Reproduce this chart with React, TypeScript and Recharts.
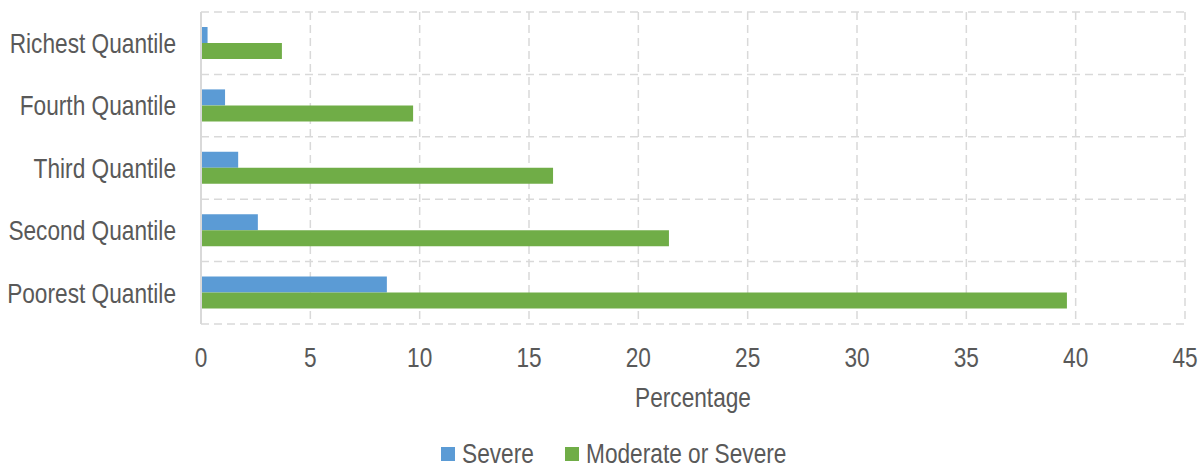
import { Bar, BarChart, CartesianGrid, Legend, XAxis, YAxis } from 'recharts';

document.body.style.margin = '0';

const quantiles = ['Richest Quantile', 'Fourth Quantile', 'Third Quantile', 'Second Quantile', 'Poorest Quantile'];
const severe = [0.3, 1.1, 1.7, 2.6, 8.5];
const moderateOrSevere = [3.7, 9.7, 16.1, 21.4, 39.6];
const xTicks = [0, 5, 10, 15, 20, 25, 30, 35, 40, 45];

const series = [
  { key: 'severe', label: 'Severe', color: '#5b9bd5', textWidth: 73 },
  { key: 'moderate', label: 'Moderate or Severe', color: '#70ad47', textWidth: 201 }
];

const data = quantiles.map((name, i) => ({ name, severe: severe[i], moderate: moderateOrSevere[i] }));

const FONT = "'Liberation Sans', Arial, sans-serif";
const FONT_SIZE = 27;
const TEXT = '#595959';
const GRID = '#d9d9d9';
const SQUEEZE = 0.84; // reference uses a condensed face (Arial Narrow look)

const YTick = ({ x, y, payload }: any) => (
  <text
    transform={`translate(${x},${y}) scale(${SQUEEZE},1)`}
    textAnchor="end"
    dominantBaseline="central"
    fill={TEXT}
    fontSize={FONT_SIZE}
    fontFamily={FONT}
  >
    {payload.value}
  </text>
);

const XTick = ({ x, y, payload }: any) => (
  <text
    transform={`translate(${x},${y}) scale(${SQUEEZE},1)`}
    textAnchor="middle"
    dy="0.71em"
    fill={TEXT}
    fontSize={FONT_SIZE}
    fontFamily={FONT}
  >
    {payload.value}
  </text>
);

const AxisTitle = ({ viewBox }: any) => (
  <text
    transform={`translate(${viewBox.x + viewBox.width / 2},${viewBox.y + 83}) scale(${SQUEEZE},1)`}
    textAnchor="middle"
    fill={TEXT}
    fontSize={FONT_SIZE}
    fontFamily={FONT}
  >
    Percentage
  </text>
);

const LegendBox = () => (
  <div
    style={{
      height: 26,
      display: 'flex',
      justifyContent: 'center',
      alignItems: 'center',
      paddingLeft: 42,
      fontFamily: FONT,
      fontSize: FONT_SIZE,
      color: TEXT
    }}
  >
    {series.map((s, i) => (
      <span key={s.key} style={{ display: 'flex', alignItems: 'center', marginLeft: i ? 30 : 0 }}>
        <span style={{ width: 14, height: 14, background: s.color, marginRight: 7, display: 'inline-block' }} />
        <span style={{ width: s.textWidth, display: 'inline-block', whiteSpace: 'nowrap', lineHeight: '26px' }}>
          <span style={{ display: 'inline-block', transform: `scaleX(${SQUEEZE})`, transformOrigin: 'left center' }}>
            {s.label}
          </span>
        </span>
      </span>
    ))}
  </div>
);

// horizontal grid lines sit on the category band edges, not the band centres
const bandEdgeLines = ({ offset }: any) =>
  Array.from({ length: quantiles.length + 1 }, (_, i) => offset.top + (i * offset.height) / quantiles.length);

const App = () => (
  <BarChart
    width={1204}
    height={467}
    data={data}
    layout="vertical"
    margin={{ top: 12, right: 19, bottom: 0, left: 0 }}
    barGap={0}
    barSize={16}
  >
    <CartesianGrid
      stroke={GRID}
      strokeWidth={1.5}
      strokeDasharray="8 5"
      horizontalCoordinatesGenerator={bandEdgeLines}
    />
    <XAxis
      type="number"
      domain={[0, 45]}
      ticks={xTicks}
      interval={0}
      axisLine={false}
      tickLine={false}
      tickSize={0}
      tickMargin={24}
      height={117}
      tick={<XTick />}
      label={<AxisTitle />}
    />
    <YAxis
      type="category"
      dataKey="name"
      width={201}
      axisLine={{ stroke: GRID, strokeWidth: 2 }}
      tickLine={false}
      tickSize={0}
      tickMargin={25}
      interval={0}
      tick={<YTick />}
    />
    <Legend verticalAlign="bottom" content={<LegendBox />} />
    {series.map((s) => (
      <Bar key={s.key} dataKey={s.key} name={s.label} fill={s.color} isAnimationActive={false} />
    ))}
  </BarChart>
);

export default App;
